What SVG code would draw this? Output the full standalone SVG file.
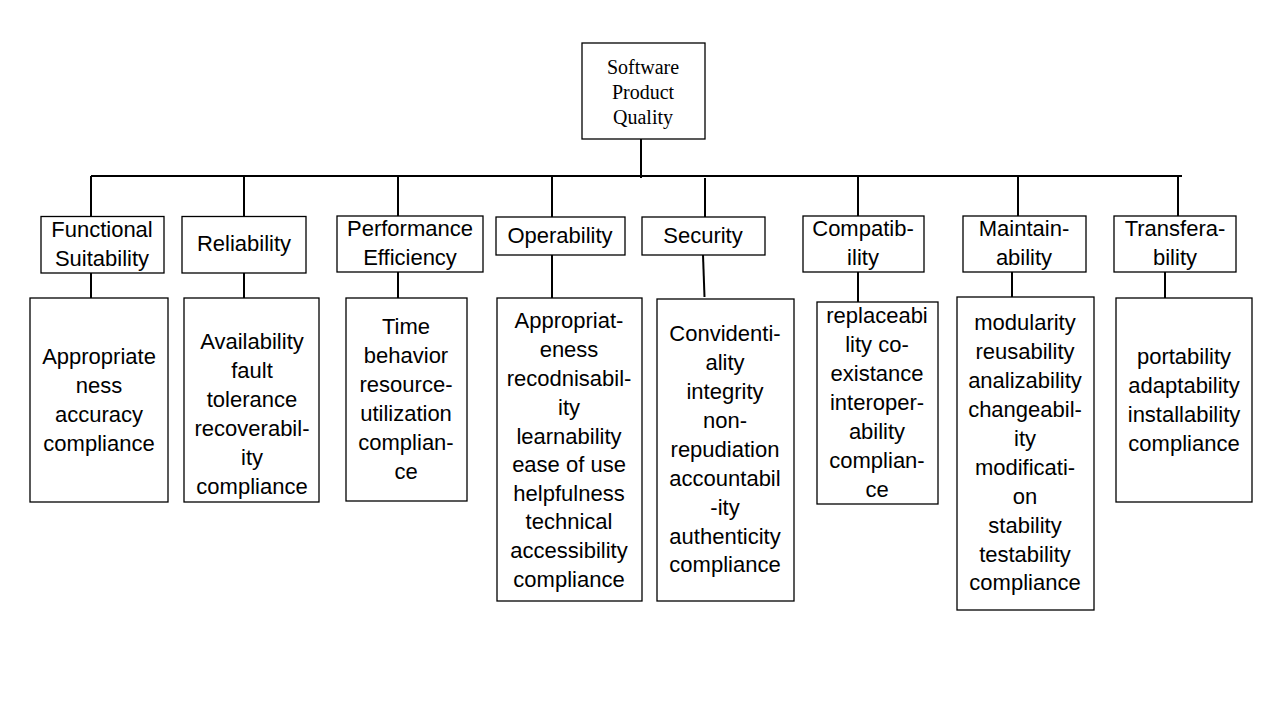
<svg xmlns="http://www.w3.org/2000/svg" width="1280" height="720" viewBox="0 0 1280 720">
<style>
.box{fill:#fff;stroke:#000;stroke-width:1.3}
.t{font-family:"Liberation Sans",Arial,sans-serif;font-size:22px;fill:#000;text-anchor:middle}
.s{font-family:"Liberation Serif","Times New Roman",serif;font-size:20px;fill:#000;text-anchor:middle}
.c{stroke:#000;stroke-width:2;fill:none}
</style>
<rect width="1280" height="720" fill="#fff"/>
<g id="connectors">
<line class="c" x1="641" y1="139" x2="641" y2="178"/>
<line class="c" x1="91" y1="176" x2="1182" y2="176"/>
<line class="c" x1="91" y1="176" x2="91" y2="216"/>
<line class="c" x1="244" y1="176" x2="244" y2="216"/>
<line class="c" x1="398" y1="176" x2="398" y2="216"/>
<line class="c" x1="552" y1="176" x2="552" y2="217"/>
<line class="c" x1="705" y1="178" x2="705" y2="217"/>
<line class="c" x1="858" y1="176" x2="858" y2="216"/>
<line class="c" x1="1018" y1="176" x2="1018" y2="216"/>
<line class="c" x1="1178" y1="176" x2="1178" y2="216"/>
<line class="c" x1="91" y1="273" x2="91" y2="298"/>
<line class="c" x1="244" y1="273" x2="244" y2="298"/>
<line class="c" x1="398" y1="272" x2="398" y2="298"/>
<line class="c" x1="552" y1="255" x2="552" y2="298"/>
<line class="c" x1="703" y1="255" x2="704.5" y2="297"/>
<line class="c" x1="858" y1="272" x2="858" y2="302"/>
<line class="c" x1="1012" y1="272" x2="1012" y2="297"/>
<line class="c" x1="1165" y1="272" x2="1165" y2="298"/>
</g>
<g id="root">
<rect class="box" x="582" y="43" width="123" height="96"/>
<text class="s" x="643" y="74">Software</text>
<text class="s" x="643" y="99">Product</text>
<text class="s" x="643" y="124">Quality</text>
</g>
<g id="functional">
<rect class="box" x="41" y="216.5" width="123" height="56.5"/>
<text class="t" x="102" y="237">Functional</text>
<text class="t" x="102" y="266">Suitability</text>
</g>
<g id="reliability">
<rect class="box" x="182" y="216.5" width="124" height="56.5"/>
<text class="t" x="244" y="251">Reliability</text>
</g>
<g id="performance">
<rect class="box" x="337" y="216" width="146" height="56"/>
<text class="t" x="410" y="236">Performance</text>
<text class="t" x="410" y="265">Efficiency</text>
</g>
<g id="operability">
<rect class="box" x="496" y="217" width="129" height="38"/>
<text class="t" x="560" y="243">Operability</text>
</g>
<g id="security">
<rect class="box" x="642" y="217" width="123" height="38"/>
<text class="t" x="703" y="243">Security</text>
</g>
<g id="compatibility">
<rect class="box" x="803" y="216" width="121" height="56"/>
<text class="t" x="863" y="236">Compatib-</text>
<text class="t" x="863" y="265">ility</text>
</g>
<g id="maintainability">
<rect class="box" x="963" y="216" width="123" height="56"/>
<text class="t" x="1024" y="236">Maintain-</text>
<text class="t" x="1024" y="265">ability</text>
</g>
<g id="transferability">
<rect class="box" x="1114" y="216" width="122" height="56"/>
<text class="t" x="1175" y="236">Transfera-</text>
<text class="t" x="1175" y="265">bility</text>
</g>
<g id="functional-items">
<rect class="box" x="30" y="298" width="138" height="204"/>
<text class="t" x="99" y="364">Appropriate</text>
<text class="t" x="99" y="393">ness</text>
<text class="t" x="99" y="422">accuracy</text>
<text class="t" x="99" y="451">compliance</text>
</g>
<g id="reliability-items">
<rect class="box" x="184" y="298" width="135" height="204"/>
<text class="t" x="252" y="349">Availability</text>
<text class="t" x="252" y="378">fault</text>
<text class="t" x="252" y="407">tolerance</text>
<text class="t" x="252" y="436">recoverabil-</text>
<text class="t" x="252" y="465">ity</text>
<text class="t" x="252" y="494">compliance</text>
</g>
<g id="performance-items">
<rect class="box" x="346" y="298" width="121" height="203"/>
<text class="t" x="406" y="334">Time</text>
<text class="t" x="406" y="363">behavior</text>
<text class="t" x="406" y="392">resource-</text>
<text class="t" x="406" y="421">utilization</text>
<text class="t" x="406" y="450">complian-</text>
<text class="t" x="406" y="479">ce</text>
</g>
<g id="operability-items">
<rect class="box" x="497" y="298" width="145" height="303"/>
<text class="t" x="569" y="328">Appropriat-</text>
<text class="t" x="569" y="357">eness</text>
<text class="t" x="569" y="386">recodnisabil-</text>
<text class="t" x="569" y="415">ity</text>
<text class="t" x="569" y="444">learnability</text>
<text class="t" x="569" y="472">ease of use</text>
<text class="t" x="569" y="501">helpfulness</text>
<text class="t" x="569" y="529">technical</text>
<text class="t" x="569" y="558">accessibility</text>
<text class="t" x="569" y="587">compliance</text>
</g>
<g id="security-items">
<rect class="box" x="657" y="299" width="137" height="302"/>
<text class="t" x="725" y="341">Convidenti-</text>
<text class="t" x="725" y="370">ality</text>
<text class="t" x="725" y="399">integrity</text>
<text class="t" x="725" y="428">non-</text>
<text class="t" x="725" y="457">repudiation</text>
<text class="t" x="725" y="486">accountabil</text>
<text class="t" x="725" y="515">-ity</text>
<text class="t" x="725" y="544">authenticity</text>
<text class="t" x="725" y="572">compliance</text>
</g>
<g id="compatibility-items">
<rect class="box" x="817" y="302" width="121" height="202"/>
<text class="t" x="877" y="323">replaceabi</text>
<text class="t" x="877" y="352">lity co-</text>
<text class="t" x="877" y="381">existance</text>
<text class="t" x="877" y="410">interoper-</text>
<text class="t" x="877" y="439">ability</text>
<text class="t" x="877" y="468">complian-</text>
<text class="t" x="877" y="497">ce</text>
</g>
<g id="maintainability-items">
<rect class="box" x="957" y="297" width="137" height="313"/>
<text class="t" x="1025" y="330">modularity</text>
<text class="t" x="1025" y="359">reusability</text>
<text class="t" x="1025" y="388">analizability</text>
<text class="t" x="1025" y="417">changeabil-</text>
<text class="t" x="1025" y="446">ity</text>
<text class="t" x="1025" y="475">modificati-</text>
<text class="t" x="1025" y="504">on</text>
<text class="t" x="1025" y="533">stability</text>
<text class="t" x="1025" y="562">testability</text>
<text class="t" x="1025" y="590">compliance</text>
</g>
<g id="transferability-items">
<rect class="box" x="1116" y="298" width="136" height="204"/>
<text class="t" x="1184" y="364">portability</text>
<text class="t" x="1184" y="393">adaptability</text>
<text class="t" x="1184" y="422">installability</text>
<text class="t" x="1184" y="451">compliance</text>
</g>
</svg>
